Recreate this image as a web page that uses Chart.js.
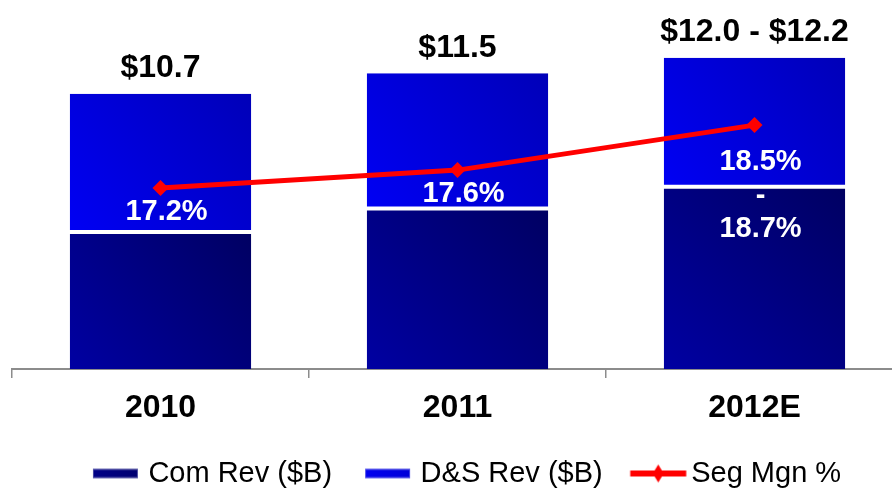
<!DOCTYPE html>
<html>
<head>
<meta charset="utf-8">
<script src="https://cdn.jsdelivr.net/npm/chart.js@4/dist/chart.umd.min.js"></script>
<style>
  html, body { margin: 0; padding: 0; background: #fff; overflow: hidden; }
  #wrap { width: 903px; height: 488px; }
</style>
</head>
<body>
<div id="wrap"><canvas id="c" width="903" height="488"></canvas></div>
<script>
// ---- data ----
const categories   = ['2010', '2011', '2012E'];
const comRevenue   = [5.33, 6.24, 7.09];   // Com Rev ($B)
const dsRevenue    = [5.37, 5.26, 5.01];   // D&S Rev ($B)
const segMargin    = [17.2, 17.6, 18.6];   // Seg Mgn %
const totalLabels  = ['$10.7', '$11.5', '$12.0 - $12.2'];
const marginLabels = [['17.2%'], ['17.6%'], ['18.5%', '-', '18.7%']];
const seriesNames  = ['Com Rev ($B)', 'D&S Rev ($B)', 'Seg Mgn %'];

const FONT = '"Liberation Sans", Arial, Helvetica, sans-serif';
const BAR_PCT = 0.611;

function barGradient(c, colors, upper) {
  const chart = c.chart, xs = chart.scales.x, ys = chart.scales.y;
  if (!xs || !ys || c.dataIndex === undefined) return colors[0];
  const i = c.dataIndex;
  const cx = xs.getPixelForValue(i);
  const half = xs.width / categories.length * BAR_PCT / 2;
  const base = upper ? comRevenue[i] : 0;
  const top = base + (upper ? dsRevenue[i] : comRevenue[i]);
  const y0 = ys.getPixelForValue(base), y1 = ys.getPixelForValue(top);
  const g = chart.ctx.createLinearGradient(cx - half, y0, cx + half, y1);
  g.addColorStop(0, colors[0]);
  g.addColorStop(1, colors[1]);
  return g;
}

// legend swatch images
function makeSwatch(kind) {
  const cv = document.createElement('canvas');
  cv.width = 120; cv.height = 22;
  const g = cv.getContext('2d');
  if (kind === 'line') {
    g.strokeStyle = '#FF0000'; g.lineWidth = 6;
    g.beginPath(); g.moveTo(49.5, 11); g.lineTo(105.5, 11); g.stroke();
    g.fillStyle = '#FF0000';
    g.beginPath(); g.moveTo(77.5, 2); g.lineTo(83, 11); g.lineTo(77.5, 20); g.lineTo(72, 11); g.closePath(); g.fill();
  } else {
    const grad = g.createLinearGradient(55, 0, 100, 0);
    if (kind === 'com') { grad.addColorStop(0, '#000088'); grad.addColorStop(1, '#000070'); }
    else { grad.addColorStop(0, '#0000F0'); grad.addColorStop(1, '#0000D8'); }
    g.fillStyle = grad;
    g.fillRect(55, 6.5, 45, 9);
    g.strokeStyle = kind === 'com' ? 'rgba(90,90,170,0.8)' : 'rgba(90,90,230,0.8)';
    g.lineWidth = 1;
    g.strokeRect(55.5, 7, 44, 8);
  }
  return cv;
}
const swatches = [makeSwatch('com'), makeSwatch('ds'), makeSwatch('line')];

const labelPlugin = {
  id: 'valueLabels',
  afterDatasetsDraw(chart) {
    const ctx = chart.ctx;
    ctx.save();
    ctx.textAlign = 'center';
    ctx.textBaseline = 'middle';
    ctx.fillStyle = '#000000';
    ctx.font = 'bold 32px ' + FONT;
    chart.getDatasetMeta(1).data.forEach((bar, i) => {
      ctx.fillText(totalLabels[i], bar.x, bar.y - 25.5);
    });
    ctx.fillStyle = '#FFFFFF';
    ctx.font = 'bold 29px ' + FONT;
    chart.getDatasetMeta(2).data.forEach((pt, i) => {
      const lines = marginLabels[i];
      const first = pt.y + (lines.length > 1 ? 37 : 23.5);
      lines.forEach((t, j) => ctx.fillText(t, pt.x + 6, first + j * 33.5));
    });
    ctx.restore();
  }
};

new Chart(document.getElementById('c'), {
  type: 'bar',
  data: {
    labels: categories,
    datasets: [
      {
        label: seriesNames[0],
        data: comRevenue,
        backgroundColor: (c) => barGradient(c, ['#0000A2', '#000062'], false),
        borderColor: '#FFFFFF',
        borderWidth: { top: 2, left: 0, right: 0, bottom: 0 },
        borderSkipped: false,
        barPercentage: BAR_PCT,
        categoryPercentage: 1,
        stack: 'rev',
        order: 1
      },
      {
        label: seriesNames[1],
        data: dsRevenue,
        backgroundColor: (c) => barGradient(c, ['#0000F4', '#0000B8'], true),
        borderColor: '#FFFFFF',
        borderWidth: { top: 0, left: 0, right: 0, bottom: 2 },
        borderSkipped: false,
        barPercentage: BAR_PCT,
        categoryPercentage: 1,
        stack: 'rev',
        order: 2
      },
      {
        type: 'line',
        label: seriesNames[2],
        data: segMargin,
        yAxisID: 'y2',
        borderColor: '#FF0000',
        backgroundColor: '#FF0000',
        borderWidth: 5,
        pointStyle: 'rectRot',
        pointRadius: 8,
        pointBorderWidth: 0,
        pointBackgroundColor: '#FF0000',
        tension: 0,
        fill: false,
        order: 0
      }
    ]
  },
  options: {
    responsive: false,
    animation: false,
    events: [],
    layout: { autoPadding: false, padding: { top: 9, bottom: -10, left: 0, right: 0 } },
    scales: {
      x: {
        stacked: true,
        offset: true,
        grid: { drawOnChartArea: false, drawTicks: true, tickLength: 9, color: '#8C8C8C', lineWidth: 1.5, offset: true },
        border: { display: true, color: '#8C8C8C', width: 2 },
        ticks: { color: '#000000', padding: 11, font: { family: FONT, size: 32, weight: 'bold' } },
        afterFit: (s) => { s.height = 88; }
      },
      y: {
        stacked: true,
        min: 0,
        max: 14,
        grid: { display: false },
        border: { display: false },
        ticks: { display: false },
        afterFit: (s) => { s.width = 12; }
      },
      y2: {
        display: false,
        position: 'right',
        min: 13.18,
        max: 21.18
      }
    },
    plugins: {
      tooltip: { enabled: false },
      legend: {
        position: 'bottom',
        labels: {
          usePointStyle: true,
          pointStyleWidth: 72,
          boxHeight: 20,
          padding: 2,
          color: '#000000',
          font: { family: FONT, size: 29 },
          generateLabels: (chart) => seriesNames.map((name, i) => ({
            text: name,
            pointStyle: swatches[i],
            fillStyle: 'rgba(0,0,0,0)',
            strokeStyle: 'rgba(0,0,0,0)',
            lineWidth: 0,
            hidden: false,
            datasetIndex: i,
            fontColor: '#000000'
          }))
        }
      }
    }
  },
  plugins: [labelPlugin]
});
</script>
</body>
</html>
